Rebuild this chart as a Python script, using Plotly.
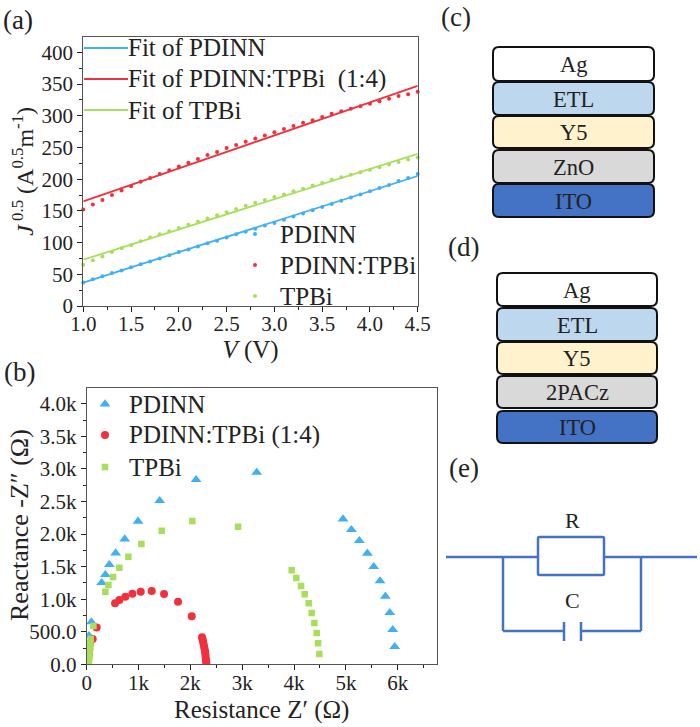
import plotly.graph_objects as go

W, H = 700, 727
FONT = "Liberation Serif"
BLUE, RED, GREEN = "#3FB0F5", "#F0313B", "#A9DE5B"
INK = "#222222"

voltage = [1.0,1.1,1.2,1.3,1.4,1.5,1.6,1.7,1.8,1.9,2.0,2.1,2.2,2.3,2.4,2.5,2.6,2.7,2.8,2.9,3.0,3.1,3.2,3.3,3.4,3.5,3.6,3.7,3.8,3.9,4.0,4.1,4.2,4.3,4.4,4.5]
j_pdinn = [37,42,47,52,56,61,66,70,75,80,85,89,94,99,103,108,113,117,122,127,131,136,141,146,151,156,161,166,171,176,181,186,191,197,202,208]
j_blend = [152,160,167,175,182,189,196,202,208,214,220,226,232,238,243,249,254,259,264,269,274,279,284,289,293,298,303,307,311,315,319,323,327,331,334,338]
j_tpbi = [65,72,78,85,91,96,102,108,113,118,123,128,133,138,143,148,153,158,163,167,172,176,181,185,190,194,199,203,207,211,215,219,223,227,231,234]
fit_v = [1.0, 4.5]
fit_pdinn = [37, 205]
fit_blend = [165, 347]
fit_tpbi = [73, 240]

z_pdinn_re = [5942,5904,5846,5762,5659,5537,5415,5260,5106,4945,3280,2110,1408,990,733,559,437,360,289,90,45,13,8,5]
z_pdinn_im = [271,532,793,1043,1279,1499,1703,1898,2066,2230,2946,2834,2512,2194,1923,1708,1529,1376,1253,650,440,297,200,100]
z_blend_re = [193,116,547,630,746,881,1042,1254,1492,1762,2026,2225,2235,2245,2255,2265,2275,2285,2290,2295,2300,2305,2310,60,50,40,30,20,10]
z_blend_im = [563,389,936,987,1038,1084,1115,1125,1079,962,737,414,385,350,310,270,230,190,150,110,70,35,10,300,230,160,100,50,20]
z_tpbi_re = [129,77,70,65,60,55,50,45,40,35,360,418,508,630,804,1055,1447,2039,2920,3955,4045,4135,4206,4283,4341,4392,4437,4463,4489]
z_tpbi_im = [588,394,320,270,220,170,120,80,40,15,1115,1217,1340,1483,1652,1847,2051,2199,2113,1442,1325,1202,1074,936,788,634,481,322,159]

y_ticks_b = [0,500,1000,1500,2000,2500,3000,3500,4000]
y_labels_b = ["0.0","500.0","1.0k","1.5k","2.0k","2.5k","3.0k","3.5k","4.0k"]
x_ticks_b = [0,1000,2000,3000,4000,5000,6000]
x_labels_b = ["0","1k","2k","3k","4k","5k","6k"]

stack_c = ["Ag","ETL","Y5","ZnO","ITO"]
stack_d = ["Ag","ETL","Y5","2PACz","ITO"]
layer_colors = ["#FFFFFF","#BDD7EE","#FFF2CC","#D9D9D9","#4472C4"]

fit_names = ["Fit of PDINN", "Fit of PDINN:TPBi  (1:4)", "Fit of TPBi"]
dot_names = ["PDINN", "PDINN:TPBi", "TPBi"]
eis_names = ["PDINN", "PDINN:TPBi (1:4)", "TPBi"]


def px(x):
    return x / W


def py(y):
    return 1 - y / H


fig = go.Figure()
for name, ys, c in zip(dot_names, [j_pdinn, j_blend, j_tpbi], [BLUE, RED, GREEN]):
    fig.add_trace(go.Scatter(x=voltage, y=ys, mode="markers", name=name, cliponaxis=False,
                             marker=dict(color=c, size=4, symbol="circle"), xaxis="x", yaxis="y"))
for name, ys, c in zip(fit_names, [fit_pdinn, fit_blend, fit_tpbi], [BLUE, RED, GREEN]):
    fig.add_trace(go.Scatter(x=fit_v, y=ys, mode="lines", name=name,
                             line=dict(color=c, width=1.8), xaxis="x", yaxis="y"))
eis_style = [(BLUE, "triangle-up", 9.5), (RED, "circle", 8), (GREEN, "square", 6.5)]
for name, xs, ys, (c, sym, sz) in zip(eis_names, [z_pdinn_re, z_blend_re, z_tpbi_re],
                                      [z_pdinn_im, z_blend_im, z_tpbi_im], eis_style):
    fig.add_trace(go.Scatter(x=xs, y=ys, mode="markers", name=name,
                             marker=dict(color=c, size=sz, symbol=sym), xaxis="x2", yaxis="y2"))

axis_common = dict(showgrid=False, zeroline=False, showline=True, mirror=True, linecolor="#555555",
                   linewidth=1, ticks="outside", ticklen=5, tickwidth=1.2, tickcolor=INK,
                   tickfont=dict(family=FONT, size=21, color=INK))

shapes = []


def rrect(x0, y0, x1, y1, r, fill, line, lw):
    p = (f"M {px(x0+r)} {py(y0)} L {px(x1-r)} {py(y0)} Q {px(x1)} {py(y0)} {px(x1)} {py(y0+r)} "
         f"L {px(x1)} {py(y1-r)} Q {px(x1)} {py(y1)} {px(x1-r)} {py(y1)} "
         f"L {px(x0+r)} {py(y1)} Q {px(x0)} {py(y1)} {px(x0)} {py(y1-r)} "
         f"L {px(x0)} {py(y0+r)} Q {px(x0)} {py(y0)} {px(x0+r)} {py(y0)} Z")
    shapes.append(dict(type="path", xref="paper", yref="paper", path=p,
                       fillcolor=fill, line=dict(color=line, width=lw)))


def seg(x0, y0, x1, y1, color="#4472C4", width=2.5):
    shapes.append(dict(type="line", xref="paper", yref="paper", x0=px(x0), y0=py(y0), x1=px(x1), y1=py(y1),
                       line=dict(color=color, width=width)))


annotations = []


def label(x, y, text, size, anchor="center", angle=0):
    annotations.append(dict(xref="paper", yref="paper", x=px(x), y=py(y), text=text, showarrow=False,
                            xanchor=anchor, yanchor="middle", textangle=angle,
                            font=dict(family=FONT, size=size, color=INK)))


for t, x, y in [("(a)", 18, 20), ("(b)", 19, 372), ("(c)", 456, 17), ("(d)", 463, 247), ("(e)", 464, 468)]:
    label(x, y, t, 27)

for names, x0, x1, rows in [
    (stack_c, 493, 654, [(47, 81), (82, 115), (116, 148), (150, 183), (184, 217)]),
    (stack_d, 497, 657, [(273, 306), (308, 341), (342, 374), (376, 408), (411, 443)]),
]:
    for n, col, (a, b) in zip(names, layer_colors, rows):
        rrect(x0, a, x1, b, 6, col, "#111111", 2)
        label((x0 + x1) / 2, (a + b) / 2 + 0.5, n, 22.5)

rrect(538, 537, 604, 575, 1.5, "rgba(0,0,0,0)", "#4472C4", 2.5)
seg(446, 557, 538, 557)
seg(604, 557, 697, 557)
seg(503, 557, 503, 631)
seg(641, 557, 641, 631)
seg(503, 631, 564, 631)
seg(581, 631, 641, 631)
seg(564, 622, 564, 641)
seg(581, 622, 581, 641)
label(572, 520, "R", 22)
label(572, 600, "C", 22)

# hand-placed legends: the reference's rows are tighter than a native legend allows
for name, c, y in zip(fit_names, [BLUE, RED, GREEN], [48, 79, 110]):
    seg(84, y, 128, y, color=c, width=1.8)
    label(126, y, name, 25, anchor="left")
for name, c, y in zip(dot_names, [BLUE, RED, GREEN], [234, 265, 296]):
    fig.add_trace(go.Scatter(x=[255], y=[y], mode="markers", marker=dict(color=c, size=4),
                             xaxis="x3", yaxis="y3", cliponaxis=False))
    label(278, y, name, 25, anchor="left")
for name, (c, sym, sz), y in zip(eis_names, eis_style, [404, 435, 467]):
    fig.add_trace(go.Scatter(x=[105], y=[y], mode="markers", marker=dict(color=c, size=sz, symbol=sym),
                             xaxis="x3", yaxis="y3", cliponaxis=False))
    label(127, y, name, 25, anchor="left")

label(19, 525, "Reactance -Z″ (Ω)", 26, angle=-90)

fig.update_layout(
    width=W, height=H, margin=dict(l=0, r=0, t=0, b=0, pad=0, autoexpand=False),
    paper_bgcolor="white", plot_bgcolor="rgba(0,0,0,0)", showlegend=False,
    font=dict(family=FONT, color=INK),
    xaxis=dict(domain=[px(83.3), px(417.7)], range=[1, 4.5], anchor="y", ticklabelstandoff=-6,
               tickvals=[1,1.5,2,2.5,3,3.5,4,4.5], ticktext=["1.0","1.5","2.0","2.5","3.0","3.5","4.0","4.5"],
               minor=dict(dtick=0.25, ticks="outside", ticklen=3, tickcolor=INK),
               title=dict(text="<i>V</i> (V)", standoff=0, font=dict(family=FONT, size=25, color=INK)), **axis_common),
    yaxis=dict(domain=[py(306), py(36.7)], range=[0, 424.7], anchor="x",
               tickvals=[0,50,100,150,200,250,300,350,400],
               minor=dict(dtick=25, ticks="outside", ticklen=3, tickcolor=INK),
               title=dict(text="<i>J</i><sup> 0.5</sup> (A<sup>0.5</sup>m<sup>-1</sup>)", standoff=1,
                          font=dict(family=FONT, size=24, color=INK)), **axis_common),
    xaxis2=dict(domain=[px(86.7), px(436.7)], range=[0, 6752], anchor="y2", ticklabelstandoff=-6,
                tickvals=x_ticks_b, ticktext=x_labels_b,
                minor=dict(dtick=500, ticks="outside", ticklen=3, tickcolor=INK),
                title=dict(text="Resistance Z′ (Ω)", standoff=6, font=dict(family=FONT, size=25, color=INK)), **axis_common),
    yaxis2=dict(domain=[py(664.3), py(387.7)], range=[0, 4246], anchor="x2",
                tickvals=y_ticks_b, ticktext=y_labels_b,
                minor=dict(dtick=250, ticks="outside", ticklen=3, tickcolor=INK), **axis_common),
    xaxis3=dict(domain=[0, 1], range=[0, W], visible=False, anchor="y3", fixedrange=True),
    yaxis3=dict(domain=[0, 1], range=[H, 0], visible=False, anchor="x3", fixedrange=True),
    shapes=shapes, annotations=annotations,
)
fig.write_html("out.html", config=dict(displayModeBar=False),
               post_script="document.body.style.margin='0';")
